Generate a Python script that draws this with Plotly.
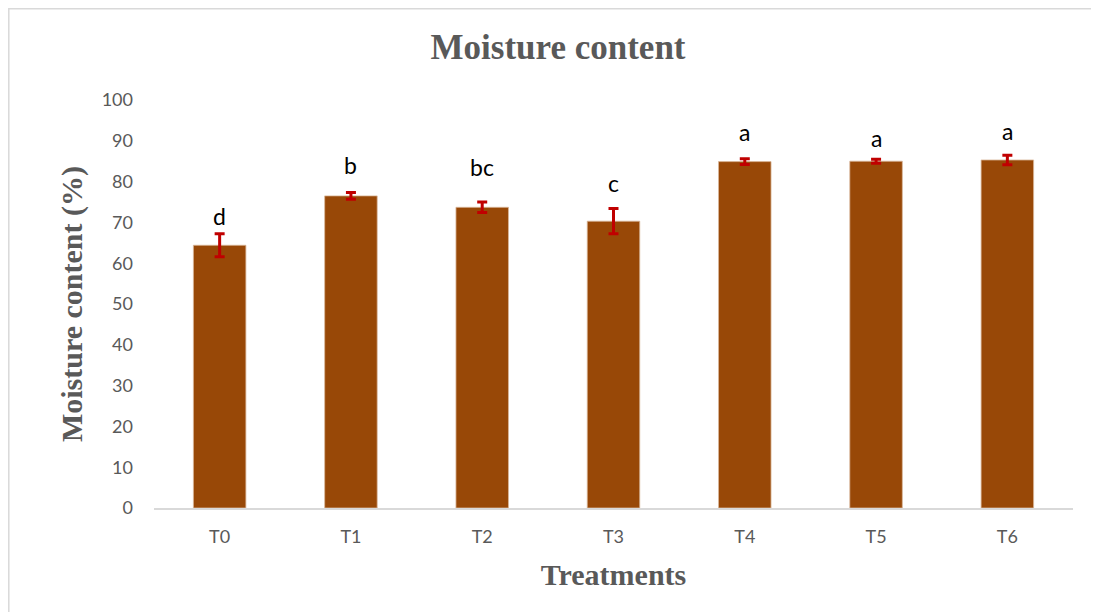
import plotly.graph_objects as go

treatments = ["T0", "T1", "T2", "T3", "T4", "T5", "T6"]
moisture = [64.4, 76.5, 73.7, 70.3, 84.9, 85.0, 85.3]
errors = [2.8, 0.8, 1.3, 3.1, 0.7, 0.5, 1.15]
letters = ["d", "b", "bc", "c", "a", "a", "a"]
letter_y = [71.6, 84.1, 83.7, 79.7, 92.2, 90.6, 92.5]
y_ticks = list(range(0, 101, 10))

W, H = 1099, 612
L, R, T, B = 146, 34, 92, 112
pw, ph = W - L - R, H - T - B

fig = go.Figure()
fig.add_trace(go.Bar(
    x=treatments, y=moisture, width=0.40,
    marker=dict(color="#984807", line=dict(color="#d9b89a", width=0.8)),
    error_y=dict(type="data", array=errors, visible=True,
                 color="#c00000", thickness=3, width=5),
    showlegend=False,
))

for t, ly, lab in zip(treatments, letter_y, letters):
    fig.add_annotation(x=t, y=ly, text=lab, showarrow=False,
                       font=dict(family="Lato, Open Sans, sans-serif", size=23, color="#000000"),
                       xanchor="center", yanchor="middle")

# chart border (only top and left visible in reference)
fig.add_shape(type="rect", xref="paper", yref="paper",
              x0=(0.8 - L) / pw, x1=1.3, y0=-0.6, y1=(H - B - 0.8) / ph,
              line=dict(color="#d9d9d9", width=1.5), layer="below")

fig.update_layout(
    width=W, height=H,
    margin=dict(l=L, r=R, t=T, b=B),
    paper_bgcolor="white", plot_bgcolor="white",
    title=dict(text="<b>Moisture content</b>", x=(558 - 8) / W, xanchor="center",
               y=1 - 39 / H, yanchor="middle",
               font=dict(family="Liberation Serif, Times New Roman, serif", size=35, color="#595959")),
    bargap=0.6,
)
fig.update_xaxes(
    showline=True, linecolor="#d9d9d9", linewidth=1.5,
    ticks="", showgrid=False,
    tickfont=dict(family="Lato, Open Sans, sans-serif", size=18, color="#595959"),
    ticklabelstandoff=12,
    title=dict(text="<b>Treatments</b>", standoff=18,
               font=dict(family="Liberation Serif, Times New Roman, serif", size=30, color="#595959")),
)
fig.update_yaxes(
    range=[0, 100], tickvals=y_ticks, showgrid=False, zeroline=False,
    showline=False, ticks="",
    tickfont=dict(family="Lato, Open Sans, sans-serif", size=18, color="#595959"),
    ticklabelstandoff=20,
    title=dict(text="<b>Moisture content (%)</b>", standoff=10,
               font=dict(family="Liberation Serif, Times New Roman, serif", size=30, color="#595959")),
)

fig.write_html("out.html")
